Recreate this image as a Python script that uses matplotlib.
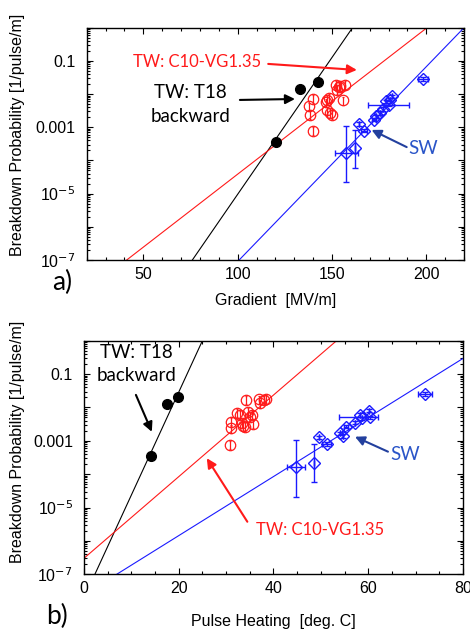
import numpy as np
import matplotlib.pyplot as plt
from matplotlib.ticker import FixedLocator, FixedFormatter, NullFormatter

plt.rcParams['font.family'] = ['Liberation Sans', 'DejaVu Sans']

# ---- data: panel a) gradient [MV/m], log10 of breakdown probability ----
t18_grad = [120.4, 133.2, 142.8]
t18_grad_logp = [-3.44, -1.85, -1.65]

c10_grad = [152.3, 153.5, 152.9, 154.4, 157.0, 140.2, 147.3, 148.2, 155.8, 147.0,
            137.6, 138.1, 147.3, 148.7, 150.0, 139.7]
c10_grad_logp = [-1.72, -1.79, -1.87, -1.75, -1.72, -2.15, -2.17, -2.12, -2.19, -2.25,
                 -2.37, -2.62, -2.49, -2.57, -2.62, -3.12]

sw_grad = [157.6, 162.3, 164.5, 167.1, 172.1, 173.5, 175.2, 177.0, 178.8, 180.5,
           181.8, 180.0, 198.2]
sw_grad_logp = [-3.77, -3.62, -2.90, -3.10, -2.77, -2.67, -2.57, -2.45, -2.22, -2.17,
                -2.07, -2.32, -1.55]
sw_grad_xerr = [6.0, 0, 0, 1.5, 1.0, 0, 0, 0, 0, 0, 0, 11.0, 2.5]
sw_grad_logp_lo = [-4.65, -4.22, -2.95, -3.15, -2.82, -2.72, -2.62, -2.50, -2.27, -2.22,
                   -2.12, -2.37, -1.60]
sw_grad_logp_hi = [-2.97, -3.09, -2.85, -3.05, -2.72, -2.62, -2.52, -2.40, -2.17, -2.12,
                   -2.02, -2.27, -1.50]

# ---- data: panel b) pulse heating [deg C] ----
t18_heat = [14.1, 17.5, 19.9]
t18_heat_logp = [-3.45, -1.90, -1.70]

c10_heat = [34.3, 37.0, 38.0, 38.4, 37.2, 32.2, 32.9, 34.7, 35.0, 35.4,
            33.3, 34.0, 35.6, 31.0, 31.0, 33.5, 30.8]
c10_heat_logp = [-1.78, -1.76, -1.78, -1.74, -1.88, -2.16, -2.23, -2.13, -2.28, -2.23,
                 -2.46, -2.58, -2.50, -2.43, -2.63, -2.56, -3.13]

sw_heat = [44.7, 48.5, 49.5, 51.2, 54.0, 54.6, 55.3, 57.2, 58.3, 58.6, 60.2, 60.4, 72.0]
sw_heat_logp = [-3.78, -3.66, -2.90, -3.10, -2.78, -2.86, -2.58, -2.46, -2.23, -2.33,
                -2.10, -2.30, -1.60]
sw_heat_xerr_lo = [1.9, 0, 0, 1.0, 0, 0, 0.5, 0, 0, 0, 0, 6.5, 1.4]
sw_heat_xerr_hi = [1.9, 0, 0, 1.0, 0, 0, 0.5, 0, 0, 0, 0, 1.7, 1.4]
sw_heat_logp_lo = [-4.68, -4.23, -2.95, -3.15, -2.83, -2.91, -2.63, -2.51, -2.28, -2.38,
                   -2.15, -2.35, -1.65]
sw_heat_logp_hi = [-2.98, -3.10, -2.85, -3.05, -2.73, -2.81, -2.53, -2.41, -2.18, -2.28,
                   -2.05, -2.25, -1.55]

# fit lines: log10(P) = a + b * x
fit_grad = {'black': (-13.266, 0.08245), 'red': (-8.811, 0.04397), 'blue': (-12.919, 0.05872)}
fit_heat = {'black': (-7.709, 0.3084), 'red': (-6.52, 0.1223), 'blue': (-7.611, 0.0885)}

RED = '#ff1a1a'
BLUE = '#1a1aff'
SWTXT = '#2a55c8'
SWARR = '#23409e'

fig = plt.figure(figsize=(4.70, 6.32), dpi=100)
ax1 = fig.add_axes([0.1845, 0.5886, 0.8028, 0.3676])
ax2 = fig.add_axes([0.1787, 0.0913, 0.8064, 0.3696])


def draw_panel(ax, xlim, fits, bx, blp, rx, rlp, sx, slp, sxerr, slo, shi):
    xx = np.linspace(xlim[0], xlim[1], 400)
    for col, c in [('black', 'k'), ('red', RED), ('blue', BLUE)]:
        a, b = fits[col]
        ax.plot(xx, 10 ** (a + b * xx), color=c, lw=0.8, zorder=2)

    sy = 10 ** np.array(slp)
    yerr = [sy - 10 ** np.array(slo), 10 ** np.array(shi) - sy]
    ax.errorbar(sx, sy, xerr=sxerr, yerr=yerr, fmt='D', ms=6.5, mfc='none', mec=BLUE,
                mew=1.0, ecolor=BLUE, elinewidth=1.0, capsize=2, color=BLUE, zorder=3)

    ry = 10 ** np.array(rlp)
    ax.errorbar(rx, ry, yerr=[ry * 0.25, ry * 0.3], fmt='o', ms=7.5, mfc='none', mec=RED,
                mew=0.9, ecolor=RED, elinewidth=0.9, capsize=1, zorder=4)

    ax.plot(bx, 10 ** np.array(blp), 'o', color='k', ms=7, zorder=5)

    ax.set_yscale('log')
    ax.set_xlim(*xlim)
    ax.set_ylim(1e-7, 1)
    decades = [10.0 ** k for k in range(-7, 1)]
    ax.yaxis.set_major_locator(FixedLocator(decades))
    ax.yaxis.set_major_formatter(FixedFormatter(
        ['10$^{-7}$', '', '10$^{-5}$', '', '0.001', '', '0.1', '']))
    minors = [m * d for d in decades[:-1] for m in range(2, 10)]
    ax.yaxis.set_minor_locator(FixedLocator(minors))
    ax.yaxis.set_minor_formatter(NullFormatter())
    ax.tick_params(which='both', direction='in', top=True, right=True, labelsize=11.5,
                   width=0.8)
    ax.tick_params(which='major', length=4)
    ax.tick_params(which='minor', length=2)
    ax.tick_params(axis='y', pad=8)
    ax.tick_params(axis='x', pad=5)
    for s in ax.spines.values():
        s.set_linewidth(1.0)


draw_panel(ax1, (20, 220), fit_grad, t18_grad, t18_grad_logp, c10_grad, c10_grad_logp,
           sw_grad, sw_grad_logp, sw_grad_xerr, sw_grad_logp_lo, sw_grad_logp_hi)
ax1.xaxis.set_major_locator(FixedLocator([50, 100, 150, 200]))
ax1.xaxis.set_minor_locator(FixedLocator(list(range(20, 221, 10))))

draw_panel(ax2, (0, 80), fit_heat, t18_heat, t18_heat_logp, c10_heat, c10_heat_logp,
           sw_heat, sw_heat_logp, [sw_heat_xerr_lo, sw_heat_xerr_hi],
           sw_heat_logp_lo, sw_heat_logp_hi)
ax2.xaxis.set_major_locator(FixedLocator([0, 20, 40, 60, 80]))
ax2.xaxis.set_minor_locator(FixedLocator(list(range(0, 81, 5))))

ax1.set_xlabel('Gradient  [MV/m]', fontsize=11.5, labelpad=8)
ax2.set_xlabel('Pulse Heating  [deg. C]', fontsize=11.5, labelpad=13)
fig.text(0.038, 0.786, 'Breakdown Probability [1/pulse/m]', rotation=90, fontsize=11.5,
         ha='center', va='center')
fig.text(0.038, 0.301, 'Breakdown Probability [1/pulse/m]', rotation=90, fontsize=11.5,
         ha='center', va='center')

ann = dict(family=['Lato', 'DejaVu Sans'], fontsize=13.5)
ann_red = dict(family=['Lato', 'DejaVu Sans'], fontsize=12)
arr = dict(arrowstyle='-|>', mutation_scale=14, lw=1.5, shrinkA=0, shrinkB=0)

# panel a annotations
ax1.text(0.123, 0.852, 'TW: C10-VG1.35', color=RED, transform=ax1.transAxes,
         ha='left', va='center', **ann_red)
ax1.annotate('', xy=(0.716, 0.818), xytext=(0.481, 0.844), xycoords='axes fraction',
             arrowprops=dict(color=RED, **arr))
ax1.text(0.274, 0.669, 'TW: T18\nbackward', color='k', transform=ax1.transAxes,
         ha='center', va='center', linespacing=1.45, **ann)
ax1.annotate('', xy=(0.552, 0.693), xytext=(0.406, 0.689), xycoords='axes fraction',
             arrowprops=dict(color='k', **arr))
ax1.text(0.891, 0.482, 'SW', color=SWTXT, transform=ax1.transAxes,
         ha='center', va='center', **ann)
ax1.annotate('', xy=(0.755, 0.560), xytext=(0.848, 0.486), xycoords='axes fraction',
             arrowprops=dict(color=SWARR, **arr))

# panel b annotations
ax2.text(0.139, 0.900, 'TW: T18\nbackward', color='k', transform=ax2.transAxes,
         ha='center', va='center', linespacing=1.45, **ann)
ax2.annotate('', xy=(0.179, 0.610), xytext=(0.137, 0.768), xycoords='axes fraction',
             arrowprops=dict(color='k', **arr))
ax2.text(0.623, 0.190, 'TW: C10-VG1.35', color=RED, transform=ax2.transAxes,
         ha='center', va='center', **ann_red)
ax2.annotate('', xy=(0.324, 0.497), xytext=(0.431, 0.225), xycoords='axes fraction',
             arrowprops=dict(color=RED, **arr))
ax2.text(0.847, 0.511, 'SW', color=SWTXT, transform=ax2.transAxes,
         ha='center', va='center', **ann)
ax2.annotate('', xy=(0.715, 0.589), xytext=(0.802, 0.525), xycoords='axes fraction',
             arrowprops=dict(color=SWARR, **arr))

fig.text(0.132, 0.553, 'a)', fontsize=19, family=['Lato', 'DejaVu Sans'],
         ha='center', va='center')
fig.text(0.121, 0.024, 'b)', fontsize=19, family=['Lato', 'DejaVu Sans'],
         ha='center', va='center')

fig.savefig('out.png', dpi=100)
